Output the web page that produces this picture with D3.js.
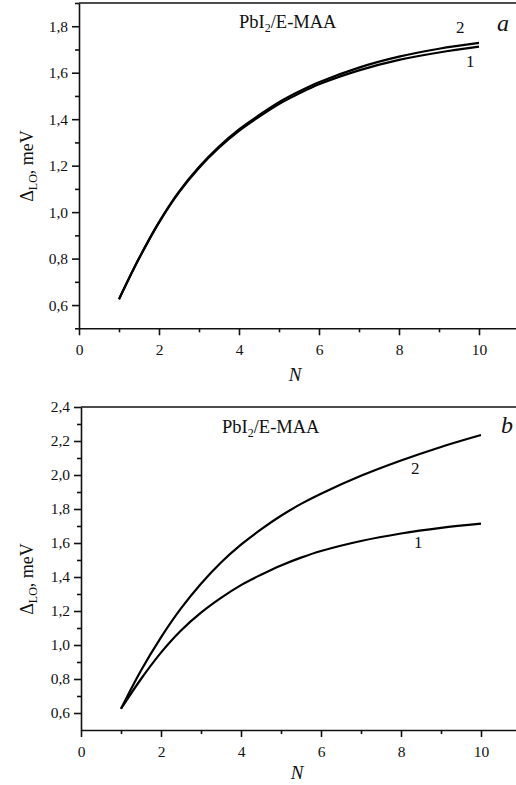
<!DOCTYPE html>
<html>
<head>
<meta charset="utf-8">
<script src="https://cdn.jsdelivr.net/npm/d3@7"></script>
<style>
  html, body { margin: 0; padding: 0; background: #fff; }
  svg { display: block; }
  text { font-family: "Liberation Serif", "Times New Roman", serif; fill: #111; }
</style>
</head>
<body>
<svg id="chart" width="516" height="785"></svg>
<script>
// ---- data ----
const N = [1, 1.5, 2, 2.5, 3, 3.5, 4, 4.5, 5, 5.5, 6, 7, 8, 9, 10];
// panel a
const a1 = [0.625, 0.800, 0.955, 1.085, 1.19, 1.277, 1.35, 1.41, 1.465, 1.51, 1.55, 1.61, 1.655, 1.687, 1.712];
const a2 = [0.625, 0.801, 0.957, 1.088, 1.194, 1.282, 1.356, 1.417, 1.473, 1.519, 1.559, 1.622, 1.669, 1.703, 1.728];
// panel b
const b1 = [0.625, 0.800, 0.955, 1.085, 1.19, 1.277, 1.352, 1.413, 1.468, 1.514, 1.553, 1.612, 1.656, 1.689, 1.714];
const b2 = [0.625, 0.85, 1.045, 1.215, 1.36, 1.485, 1.59, 1.68, 1.76, 1.83, 1.89, 1.995, 2.085, 2.165, 2.235];
const xTicks = [0, 2, 4, 6, 8, 10];
const xMinor = [1, 3, 5, 7, 9];
const yTicksA = [0.6, 0.8, 1.0, 1.2, 1.4, 1.6, 1.8];
const yMinorA = [0.5, 0.7, 0.9, 1.1, 1.3, 1.5, 1.7, 1.9];
const yTicksB = [0.6, 0.8, 1.0, 1.2, 1.4, 1.6, 1.8, 2.0, 2.2, 2.4];
const yMinorB = [0.7, 0.9, 1.1, 1.3, 1.5, 1.7, 1.9, 2.1, 2.3];
const material = "PbI";
const materialSub = "2";
const materialRest = "/E-MAA";

const svg = d3.select("#chart");
const fmt = d => d.toFixed(1).replace(".", ",");

function panel(cfg) {
  const x = d3.scaleLinear().domain([0, cfg.xMax]).range([cfg.left, 516]);
  const y = d3.scaleLinear().domain(cfg.yDomain).range([cfg.bottom, cfg.top]);
  const g = svg.append("g");

  // minor ticks
  g.append("g").attr("transform", `translate(0,${cfg.bottom})`)
    .call(d3.axisBottom(x).tickValues(xMinor).tickSize(4).tickFormat(""))
    .call(s => s.select(".domain").remove());
  g.append("g").attr("transform", `translate(${cfg.left},0)`)
    .call(d3.axisLeft(y).tickValues(cfg.yMinor).tickSize(4).tickFormat(""))
    .call(s => s.select(".domain").remove());

  // major axes
  const xa = g.append("g").attr("transform", `translate(0,${cfg.bottom})`)
    .call(d3.axisBottom(x).tickValues(xTicks).tickSize(7).tickSizeOuter(0).tickPadding(9).tickFormat(d3.format("d")));
  const ya = g.append("g").attr("transform", `translate(${cfg.left},0)`)
    .call(d3.axisLeft(y).tickValues(cfg.yTicks).tickSize(7).tickSizeOuter(0).tickPadding(4).tickFormat(fmt));
  [xa, ya].forEach(a => {
    a.selectAll("text").attr("font-size", 15.5).attr("font-family", "Liberation Serif").attr("fill", "#111");
    a.selectAll("line, path").attr("stroke", "#111").attr("stroke-width", 1.6);
  });
  g.selectAll(".tick line").attr("stroke", "#111").attr("stroke-width", 1.6);

  // top frame line
  g.append("line").attr("x1", cfg.left).attr("x2", 516)
    .attr("y1", y(cfg.yDomain[1])).attr("y2", y(cfg.yDomain[1]))
    .attr("stroke", "#111").attr("stroke-width", 1.6);

  // curves
  const line = d3.line().x((d, i) => x(N[i])).y(d => y(d)).curve(d3.curveCatmullRom.alpha(0.5));
  [cfg.s1, cfg.s2].forEach(s => {
    g.append("path").datum(s).attr("d", line)
      .attr("fill", "none").attr("stroke", "#000").attr("stroke-width", cfg.lw);
  });

  // title
  const t = g.append("text").attr("x", cfg.titleX).attr("y", cfg.titleY).attr("font-size", 18.5);
  t.append("tspan").text(material);
  t.append("tspan").attr("font-size", 12).attr("dy", 4).text(materialSub);
  t.append("tspan").attr("dy", -4).text(materialRest);

  // panel letter
  g.append("text").attr("x", cfg.letterX).attr("y", cfg.letterY)
    .attr("font-size", 24).attr("font-style", "italic").text(cfg.letter);

  // curve labels
  cfg.labels.forEach(l => {
    g.append("text").attr("x", l.x).attr("y", l.y).attr("font-size", 17).text(l.t);
  });

  // y label
  const yl = g.append("text")
    .attr("transform", `translate(33,${cfg.yLabelY}) rotate(-90)`)
    .attr("text-anchor", "middle").attr("font-size", 18);
  yl.append("tspan").text("Δ");
  yl.append("tspan").attr("font-size", 12).attr("dy", 4).text("LO");
  yl.append("tspan").attr("dy", -4).text(", meV");

  // x label
  g.append("text").attr("x", x(5.5) - 4).attr("y", cfg.bottom + cfg.nOff)
    .attr("text-anchor", "middle").attr("font-size", 19).attr("font-style", "italic").text("N");
}

panel({
  left: 79, xMax: 10.925, top: 3, bottom: 328.3, yDomain: [0.5, 1.9],
  yTicks: yTicksA, yMinor: yMinorA, s1: a1, s2: a2, lw: 2.2,
  titleX: 239, titleY: 28, letter: "a", letterX: 497, letterY: 31,
  labels: [{ t: "2", x: 456, y: 33 }, { t: "1", x: 466, y: 67 }],
  yLabelY: 166, nOff: 53
});

panel({
  left: 81, xMax: 10.875, top: 407, bottom: 730, yDomain: [0.5, 2.4],
  yTicks: yTicksB, yMinor: yMinorB, s1: b1, s2: b2, lw: 2.2,
  titleX: 222, titleY: 433, letter: "b", letterX: 501, letterY: 433,
  labels: [{ t: "2", x: 411, y: 474 }, { t: "1", x: 414, y: 548 }],
  yLabelY: 579, nOff: 49
});
</script>
</body>
</html>
